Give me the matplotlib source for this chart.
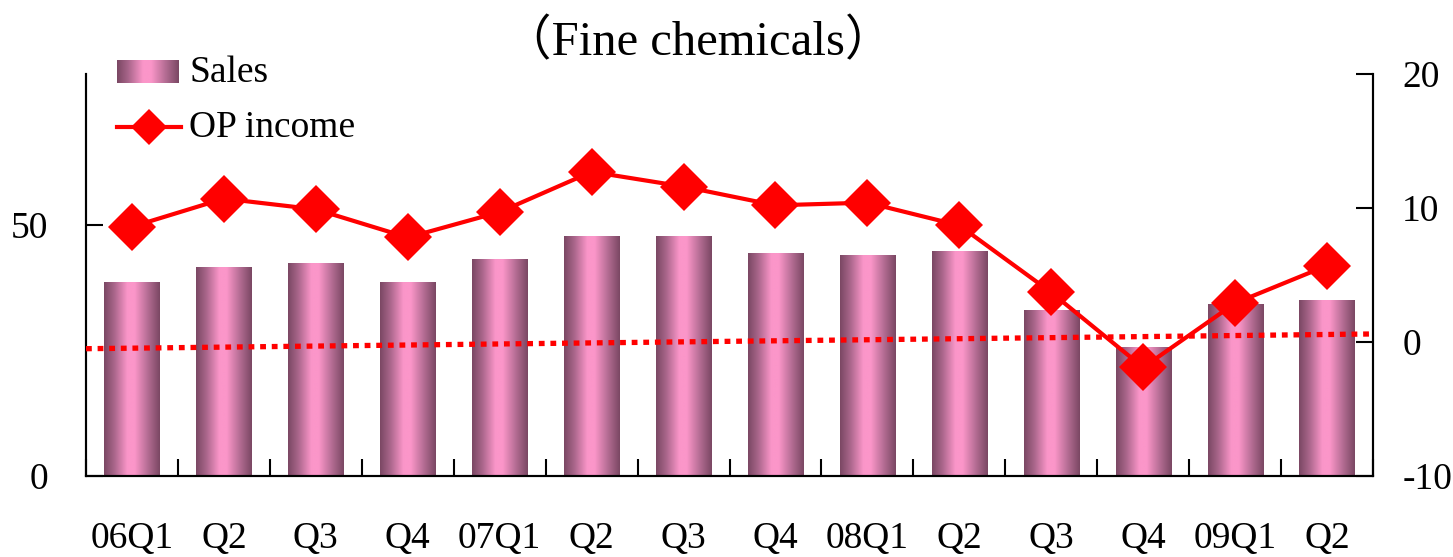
import numpy as np
import matplotlib
matplotlib.use("Agg")
import matplotlib.pyplot as plt
from matplotlib.colors import LinearSegmentedColormap
from matplotlib.lines import Line2D

# Quarterly data
quarters = ["06Q1", "Q2", "Q3", "Q4", "07Q1", "Q2", "Q3", "Q4",
            "08Q1", "Q2", "Q3", "Q4", "09Q1", "Q2"]
sales = [38.6, 41.4, 42.2, 38.6, 43.0, 47.6, 47.6, 44.2,
         43.8, 44.6, 32.9, 25.5, 34.1, 34.9]
op_income = [8.6, 10.7, 9.9, 7.8, 9.7, 12.7, 11.6, 10.2,
             10.4, 8.7, 3.7, -1.9, 2.9, 5.7]
# dotted reference line (right-axis values at the left and right edges)
ref_line = [-0.5, 0.6]

plt.rcParams["font.family"] = ["Liberation Serif", "Noto Sans CJK JP"]
plt.rcParams["font.size"] = 27
plt.rcParams["axes.unicode_minus"] = False

W, H = 1453, 557
fig = plt.figure(figsize=(W / 100, H / 100), dpi=100)
ax = fig.add_axes([86 / W, 1 - 476 / H, (1373 - 86) / W, (476 - 74) / H])
ax2 = ax.twinx()

n = len(quarters)
x = np.arange(n)
bar_w = 0.6

# cylinder-like horizontal gradient for the bars
dark = "#7a4763"
pink = "#fb96c9"
cmap = LinearSegmentedColormap.from_list(
    "cyl", [(0.0, dark), (0.18, "#a8658a"), (0.42, pink), (0.55, pink),
            (0.8, "#b06a90"), (1.0, dark)])
grad = np.linspace(0, 1, 256).reshape(1, -1)

for xi, v in zip(x, sales):
    ax.imshow(grad, cmap=cmap, aspect="auto", interpolation="bilinear",
              extent=[xi - bar_w / 2, xi + bar_w / 2, 0, v], zorder=2)

ax.set_xlim(-0.5, n - 0.5)
ax.set_ylim(0, 80)
ax.set_yticks([0, 50])
ax.set_xticks(np.arange(-0.5, n, 1.0))
ax.set_xticklabels([])
ax.set_xticks(x, minor=True)
ax.set_xticklabels(quarters, minor=True)
ax.tick_params(axis="x", which="major", direction="in", length=12, width=1.5)
ax.tick_params(axis="x", which="minor", length=0, pad=33)
ax.tick_params(axis="y", direction="in", length=12, width=1.5, pad=27)

ax2.set_ylim(-10, 20)
ax2.set_yticks([-10, 0, 10, 20])
ax2.tick_params(axis="y", direction="in", length=12, width=1.5, pad=21)

for a in (ax, ax2):
    a.spines["top"].set_visible(False)
    for s in ("left", "right", "bottom"):
        a.spines[s].set_linewidth(1.5)

# dotted reference line across the plot
ax2.plot([-0.5, n - 0.5], ref_line, color="#ff0000", lw=3.8,
         linestyle=(0, (1.1, 1.1)), dash_capstyle="butt", zorder=3,
         clip_on=False)

# operating income
ax2.plot(x, op_income, color="#ff0000", lw=3, marker="D", markersize=24,
         markeredgewidth=0, zorder=4, clip_on=False)

# title
fig.text(698 / W, 1 - 42 / H, "（Fine chemicals）", ha="center", va="center",
         fontsize=35)

# legend
lax = fig.add_axes([117 / W, 1 - 83 / H, (179 - 117) / W, (83 - 60) / H])
lax.imshow(grad, cmap=cmap, aspect="auto", interpolation="bilinear")
lax.axis("off")
fig.text(189 / W, 1 - 73 / H, "Sales", ha="left", va="center", fontsize=27)
fig.add_artist(Line2D([117 / W, 181 / W], [1 - 127 / H, 1 - 127 / H],
                      transform=fig.transFigure, color="#ff0000", lw=3))
fig.add_artist(Line2D([149 / W], [1 - 127 / H], transform=fig.transFigure,
                      color="#ff0000", marker="D", markersize=18,
                      markeredgewidth=0))
fig.text(189 / W, 1 - 128 / H, "OP income", ha="left", va="center",
         fontsize=27)

fig.savefig("out.png", dpi=100)
